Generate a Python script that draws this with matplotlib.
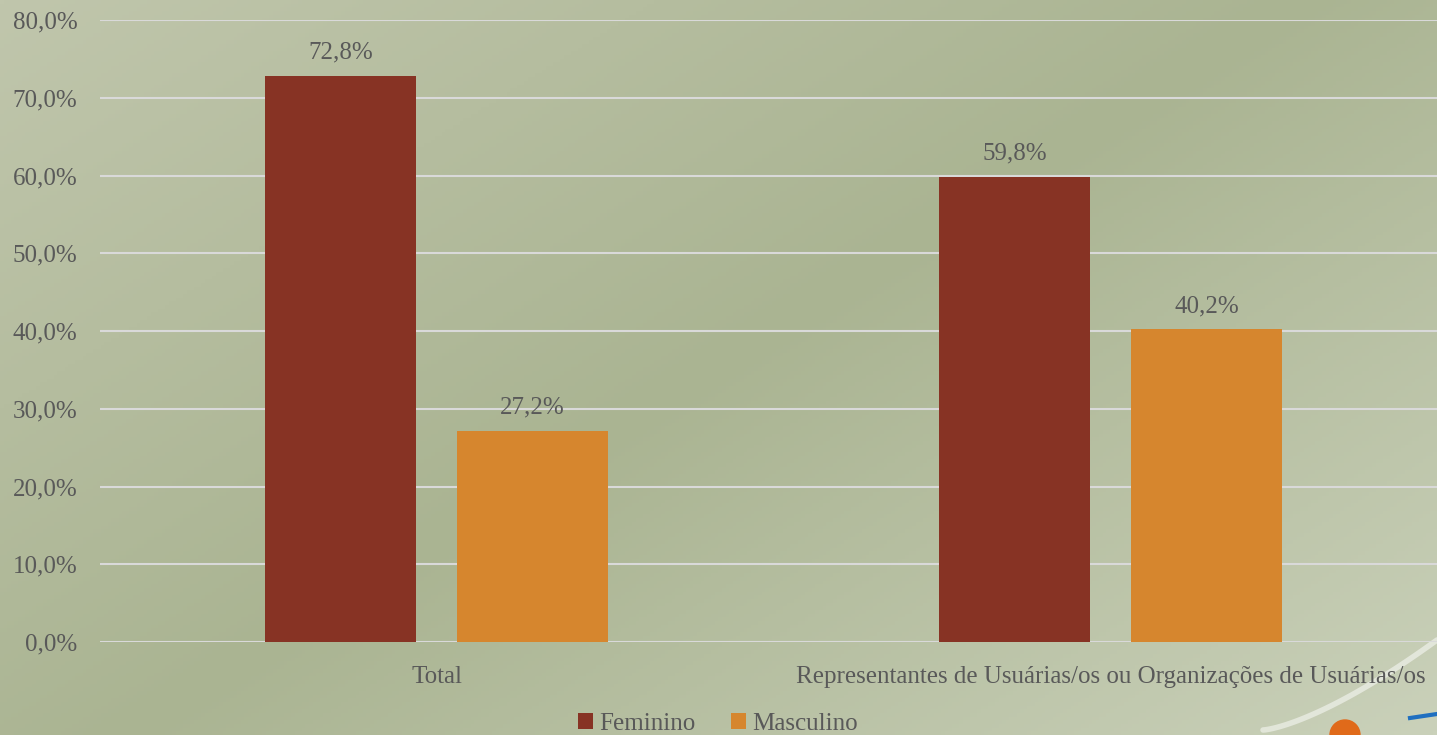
import numpy as np
import matplotlib.pyplot as plt
from matplotlib.patches import Ellipse
from matplotlib.ticker import FuncFormatter

categorias = ['Total', 'Representantes de Usuárias/os ou Organizações de Usuárias/os']
feminino = [72.8, 59.8]
masculino = [27.2, 40.2]
series = ['Feminino', 'Masculino']

cor_fem = '#873324'
cor_masc = '#D6862E'
cor_texto = '#595959'

plt.rcParams['font.family'] = ['Liberation Serif', 'DejaVu Serif']

fig = plt.figure(figsize=(14.37, 7.35), dpi=100)

# fundo em degradê (claro em cima à esquerda, escuro no meio, claro embaixo à direita)
bg = fig.add_axes([0, 0, 1, 1], zorder=0)
yy, xx = np.mgrid[0:1:200j, 0:1:400j]
t = 0.55 * xx + 0.45 * yy
c1 = np.array([192, 198, 172]) / 255
c2 = np.array([170, 180, 146]) / 255
c3 = np.array([202, 209, 186]) / 255
w = np.clip(t * 2, 0, 1)[..., None]
w2 = np.clip(t * 2 - 1, 0, 1)[..., None]
img = np.where(t[..., None] < 0.5, c1 * (1 - w) + c2 * w, c2 * (1 - w2) + c3 * w2)
bg.imshow(img, extent=[0, 1, 0, 1], aspect='auto', origin='upper')
# enfeites no canto inferior direito
th = np.linspace(0, 1, 100)
px = 1263 + 174 * th
py = 5 + 90 * th ** 1.4
bg.plot(px / 1437, py / 735, color='white', lw=4, alpha=0.5, solid_capstyle='round')
bg.add_patch(Ellipse((1345 / 1437, 0 / 735), 30 / 1437, 30 / 735, color='#E06A1A'))
bg.plot([1410 / 1437, 1437 / 1437], [17 / 735, 21 / 735], color='#1F6FC0', lw=3)
bg.set_xlim(0, 1)
bg.set_ylim(0, 1)
bg.axis('off')

ax = fig.add_axes([99.5 / 1437, 93 / 735, 1348 / 1437, 622 / 735], zorder=1)
ax.patch.set_alpha(0)

x = np.arange(len(categorias))
largura = 0.224
desloc = 0.1424
b1 = ax.bar(x - desloc, feminino, largura, color=cor_fem, label=series[0], zorder=3)
b2 = ax.bar(x + desloc, masculino, largura, color=cor_masc, label=series[1], zorder=3)

for barras in (b1, b2):
    for b in barras:
        h = b.get_height()
        ax.text(b.get_x() + b.get_width() / 2, h + 3.0, f'{h:.1f}%'.replace('.', ','),
                ha='center', va='center', fontsize=18, color=cor_texto)

ax.set_xlim(-0.5, 1.5)
ax.set_ylim(0, 80)
ax.set_yticks(np.arange(0, 81, 10))
ax.yaxis.set_major_formatter(FuncFormatter(lambda v, p: f'{v:.1f}%'.replace('.', ',')))
ax.set_xticks(x)
ax.set_xticklabels(categorias)
ax.grid(axis='y', color='#D9D9D9', lw=1.5, zorder=1)
ax.tick_params(axis='both', length=0, labelsize=18, labelcolor=cor_texto)
ax.tick_params(axis='y', pad=16)
ax.tick_params(axis='x', pad=17)
for s in ax.spines.values():
    s.set_visible(False)

fig.legend(loc='center', bbox_to_anchor=(718 / 1437, 1 - 724 / 735), ncol=2, frameon=False,
           fontsize=18, labelcolor=cor_texto, handlelength=0.6, handleheight=0.6,
           handletextpad=0.25, columnspacing=1.4)

fig.savefig('out.png', dpi=100)
